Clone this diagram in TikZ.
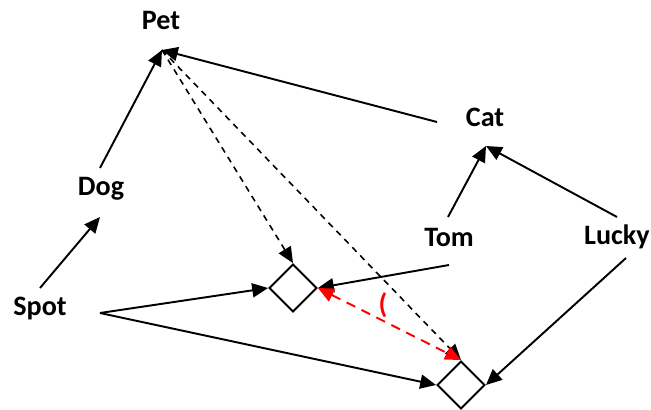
\documentclass[tikz,border=0pt]{standalone}
\usepackage{fontspec}
\setmainfont{Carlito}
\usetikzlibrary{arrows.meta,shapes.geometric}

\begin{document}
\begin{tikzpicture}[x=0.02cm,y=-0.02cm,
  lbl/.style={font=\fontsize{16}{19}\selectfont\bfseries},
  link/.style={draw,diamond,line width=1.1pt,minimum width=0.96cm,minimum height=0.96cm,inner sep=0pt},
  arr/.style={line width=1.1pt,-{Triangle[length=9pt,width=8pt]}},
  dsh/.style={line width=0.9pt,dash pattern=on 3.5pt off 3pt,-{Triangle[length=9pt,width=8pt]}}]

\useasboundingbox (0,0) rectangle (651,409);

% Define attach points
\coordinate (P) at (162,50);
\coordinate (C) at (486,146);
\coordinate (Ptop) at (437,122);
\coordinate (Dtop) at (100,168);
\coordinate (Dbot) at (100,217);
\coordinate (Stop) at (40,288);
\coordinate (Sout) at (100,313);
\coordinate (Ttop) at (448,217);
\coordinate (Tout) at (449,265);
\coordinate (Ltop) at (617,217);
\coordinate (Lout) at (626,258);

% Link boxes
\node[link] (L1) at (293,288) {};
\node[link] (L2) at (461,385) {};

% Dashed lines from Pet
\draw[dsh] (P) -- (L1.north);
\draw[dsh] (P) -- (L2.north);

% Solid arrows
\draw[arr] (Dtop) -- (P);
\draw[arr] (Ptop) -- (P);
\draw[arr] (Stop) -- (Dbot);
\draw[arr] (Ttop) -- (C);
\draw[arr] (Ltop) -- (C);
\draw[arr] (Sout) -- (L1.west);
\draw[arr] (Sout) -- (L2.west);
\draw[arr] (Tout) -- (L1.east);
\draw[arr] (Lout) -- (L2.east);

% Red link
\draw[red,line width=1.1pt,dash pattern=on 5.5pt off 4pt,{Triangle[length=9pt,width=8pt]}-{Triangle[length=9pt,width=8pt]}] (L1.east) -- (L2.north);

% Labels
\node[lbl] (Pet) at (161,20) {Pet};
\node[lbl] (Dog) at (101,189) {Dog};
\node[lbl] (Spot) at (40,308) {Spot};
\node[lbl] (Cat) at (485,117) {Cat};
\node[lbl] (Tom) at (449,237) {Tom};
\node[lbl] (Lucky) at (617,237) {Lucky};
\node[lbl,red] (R) at (383,305) {(};

\end{tikzpicture}
\end{document}
